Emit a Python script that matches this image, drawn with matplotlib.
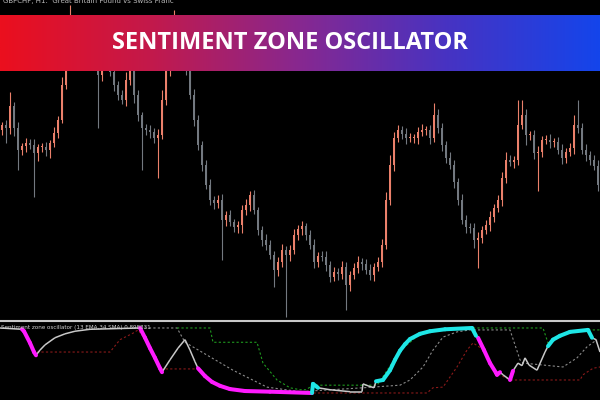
import numpy as np
import matplotlib
matplotlib.use("Agg")
import matplotlib.pyplot as plt
from matplotlib.collections import LineCollection
from matplotlib.colors import LinearSegmentedColormap
from matplotlib.lines import Line2D

# GBPCHF H1 closes, in points above 1.1500 (one bar every 4 px)
close_pts = [195, 192, 214, 192, 170, 174, 177, 175, 167, 173,
             173, 170, 177, 187, 200, 235, 260, 285, 280, 270,
             265, 270, 265, 270, 245, 260, 255, 248, 235, 225,
             220, 240, 250, 225, 205, 192, 190, 188, 182, 185,
             220, 250, 270, 275, 270, 265, 250, 225, 200, 175,
             155, 135, 120, 117, 120, 100, 105, 98, 93, 95,
             110, 115, 125, 110, 90, 80, 75, 65, 50, 58,
             70, 65, 70, 85, 91, 94, 85, 75, 58, 64,
             63, 55, 43, 48, 46, 53, 35, 45, 52, 58,
             56, 50, 45, 53, 58, 75, 120, 155, 182, 190,
             186, 182, 182, 182, 188, 190, 190, 182, 205, 192,
             175, 162, 155, 138, 120, 100, 93, 92, 80, 82,
             90, 95, 103, 112, 120, 142, 160, 158, 160, 195,
             205, 185, 185, 167, 168, 180, 180, 178, 178, 170,
             162, 168, 172, 195, 192, 170, 165, 160, 154, 135]
first_open = 190

wick_up = [3, 5, 14, 4, 6, 3, 5, 4, 6, 3,
           4, 5, 3, 6, 4, 8, 10, 30, 6, 5,
           4, 6, 5, 4, 5, 6, 4, 5, 6, 4,
           5, 8, 6, 4, 5, 3, 4, 5, 4, 6,
           10, 12, 35, 35, 8, 6, 5, 4, 6, 5,
           4, 5, 6, 4, 5, 6, 4, 5, 3, 4,
           5, 6, 4, 5, 3, 4, 6, 5, 4, 5,
           6, 4, 5, 6, 4, 5, 3, 5, 6, 4,
           5, 6, 4, 5, 4, 6, 5, 4, 5, 6,
           4, 5, 6, 4, 5, 6, 8, 10, 6, 5,
           4, 6, 5, 4, 5, 6, 4, 5, 12, 6,
           5, 4, 6, 5, 4, 6, 5, 4, 5, 6,
           4, 5, 6, 4, 5, 6, 8, 5, 4, 25,
           15, 6, 4, 5, 6, 4, 5, 6, 4, 5,
           6, 4, 5, 10, 25, 5, 6, 4, 5, 6]
wick_dn = [5, 15, 6, 8, 20, 5, 6, 4, 44, 8,
           5, 6, 8, 4, 5, 3, 4, 5, 6, 4,
           5, 4, 6, 5, 53, 6, 5, 4, 6, 5,
           4, 6, 5, 8, 6, 42, 5, 6, 5, 40,
           4, 5, 6, 4, 5, 6, 5, 4, 6, 5,
           6, 4, 5, 6, 5, 40, 6, 4, 5, 6,
           8, 5, 6, 4, 5, 6, 5, 4, 17, 6,
           5, 62, 6, 4, 5, 6, 5, 4, 6, 5,
           4, 6, 5, 4, 6, 5, 25, 6, 4, 5,
           6, 4, 5, 6, 4, 5, 4, 5, 6, 4,
           5, 6, 4, 5, 6, 4, 5, 6, 4, 5,
           6, 5, 4, 6, 5, 4, 6, 5, 8, 28,
           5, 4, 6, 5, 4, 6, 5, 4, 6, 5,
           4, 10, 5, 6, 38, 5, 4, 6, 5, 4,
           6, 5, 4, 6, 5, 4, 6, 5, 4, 6]

# oscillator main line: position (bars), value, zone of the segment ending there
osc_x = [0, 5.5, 6, 7.5, 8.5, 9, 10, 11.25, 13.75, 16.25, 18.75, 22.5, 35,
         36.25, 37.5, 38.75, 40, 40.5, 42.5, 44.5, 46.25, 47.5, 48.75, 49.5,
         51.25, 53, 55, 57.5, 61.25, 67.5, 78, 78.25, 79.5, 82.5, 87.5, 90.5,
         90.75, 92, 93.5, 94, 95.75, 97.5, 98.75, 100, 101.25, 102.5, 105,
         107.5, 111.25, 118, 119, 119.5, 121, 122.5, 124, 124.25, 125, 125.75,
         127.5, 128.25, 129.5, 130.5, 131.25, 132.25, 134.25, 136.25, 137,
         138.25, 140, 142.5, 147, 148, 149, 150]
osc_v = [1.00, 0.98, 0.95, 0.77, 0.63, 0.58, 0.66, 0.74, 0.85, 0.91, 0.95, 0.98, 1.00,
         0.85, 0.69, 0.54, 0.38, 0.32, 0.51, 0.69, 0.82, 0.66, 0.48, 0.38,
         0.26, 0.17, 0.11, 0.06, 0.03, 0.02, 0.00, 0.14, 0.08, 0.05, 0.02, 0.02,
         0.14, 0.11, 0.08, 0.18, 0.20, 0.35, 0.51, 0.65, 0.75, 0.83, 0.91,
         0.95, 0.98, 1.00, 0.88, 0.85, 0.66, 0.46, 0.31, 0.28, 0.32, 0.28,
         0.20, 0.34, 0.46, 0.42, 0.54, 0.43, 0.35, 0.63, 0.72,
         0.82, 0.88, 0.94, 0.97, 0.85, 0.82, 0.63]
osc_zone = "nnddddnnnnnnnddddd" "nnnnnn" "ddddddduu" "nnnnnnn" "uuuuuuuuuuu" \
           "nddddd" "nnd" "nnnnnnn" "uuuuu" "nnn"

sma_x = [35, 44.25, 46.25, 58.25, 66.75, 75, 90.75, 100, 102.5, 105.75, 108.25,
         110.75, 114.25, 117.5, 127.5, 130, 130.75, 140.75, 144.25, 146.75, 149.25]
sma_v = [1.00, 1.00, 0.78, 0.35, 0.09, 0.02, 0.08, 0.12, 0.20, 0.40, 0.66,
         0.86, 0.94, 0.97, 0.97, 0.51, 0.46, 0.40, 0.54, 0.71, 0.82]

upper_x = [44.25, 52.5, 53.25, 64.25, 65.75, 69.25, 72.5, 75, 76.5, 78.25, 94.25,
           95, 100, 105, 110, 118.25, 135.75, 137, 138.25, 142.5, 147.5, 150]
upper_v = [1.00, 1.00, 0.78, 0.78, 0.46, 0.20, 0.08, 0.05, 0.05, 0.12, 0.12,
           0.18, 0.65, 0.91, 0.98, 1.00, 1.00, 0.77, 0.82, 0.94, 0.97, 0.97]

lower_x = [9.25, 27.5, 30, 33.25, 34.5, 36, 38, 40, 50, 52, 56, 62, 75, 106.75,
           108.25, 110.75, 114.25, 116.75, 118.25, 121, 124, 127.5, 145, 145.75,
           148.25, 150]
lower_v = [0.63, 0.63, 0.82, 0.92, 0.97, 0.85, 0.60, 0.37, 0.37, 0.20, 0.08, 0.02,
           0.00, 0.00, 0.08, 0.09, 0.40, 0.66, 0.77, 0.66, 0.31, 0.20, 0.20, 0.28,
           0.38, 0.40]

BULL = "#eb806b"
BEAR = "#737980"

fig = plt.figure(figsize=(6, 4), dpi=100, facecolor="black")

# price pane
ax = fig.add_axes([0, 0.2, 1, 0.8], facecolor="black")
closes = 1.15 + np.array(close_pts) / 1e4
opens = np.concatenate([[1.15 + first_open / 1e4], closes[:-1]])
highs = np.maximum(opens, closes) + np.array(wick_up) / 1e4
lows = np.minimum(opens, closes) - np.array(wick_dn) / 1e4
idx = np.arange(len(closes))
colors = np.where(closes >= opens, BULL, BEAR)
ax.vlines(idx, lows, highs, colors=colors, linewidth=0.8)
ax.bar(idx, np.maximum(np.abs(closes - opens), 0.00008),
       bottom=np.minimum(opens, closes), width=0.65, color=colors, linewidth=0)
ax.set_xlim(-0.5, len(closes) - 0.5)
ax.set_ylim(1.1500, 1.1820)
ax.axis("off")

fig.text(3 / 600, 1 - 1.5 / 400, "GBPCHF, H1:  Great Britain Pound vs Swiss Franc",
         color="#bbbbbb", fontsize=5, va="center", ha="left")

# oscillator pane
ox = fig.add_axes([0, 0, 1, 78 / 400], facecolor="black")
ox.set_xlim(0, 150)
ox.set_ylim(-0.108, 1.092)
ox.axis("off")
dots = (0, (2, 2))
ox.plot(sma_x, sma_v, color="#8a8a8a", lw=0.8, ls=dots)
ox.plot(upper_x, upper_v, color="#1f9a1f", lw=0.8, ls=dots)
ox.plot(lower_x, lower_v, color="#8b1a1a", lw=0.8, ls=dots)

segs = {"n": [], "d": [], "u": []}
for i in range(1, len(osc_x)):
    segs[osc_zone[i]].append([(osc_x[i - 1], osc_v[i - 1]), (osc_x[i], osc_v[i])])
ox.add_collection(LineCollection(segs["n"], colors="#c8c8c8", linewidths=1.1))
ox.add_collection(LineCollection(segs["d"], colors="#ff1aff", linewidths=2.9,
                                 capstyle="round"))
ox.add_collection(LineCollection(segs["u"], colors="#1ee6e6", linewidths=2.9,
                                 capstyle="round"))

ox.text(1 / 600, (400 - 327) / 78, "Sentiment zone oscillator (13 EMA,34 SMA) 0.898831",
        transform=ox.transAxes, color="#d0d0d0", fontsize=4.1,
        va="center", ha="left")

fig.add_artist(Line2D([0, 1], [79.5 / 400, 79.5 / 400], color="#c8c8c8", lw=1.5))

# title banner
bx = fig.add_axes([0, 329 / 400, 1, 56 / 400])
grad = LinearSegmentedColormap.from_list(
    "banner", ["#eb0f1e", "#c3194b", "#872890", "#4633c3", "#1445eb"])
bx.imshow(np.linspace(0, 1, 256)[None, :], cmap=grad, aspect="auto",
          extent=[0, 1, 0, 1])
bx.axis("off")
bx.text(0.483, 0.5, "SENTIMENT ZONE OSCILLATOR", color="white", fontsize=17,
        fontweight="bold", family="Open Sans", ha="center", va="center")

fig.savefig("out.png", dpi=100, facecolor="black")
